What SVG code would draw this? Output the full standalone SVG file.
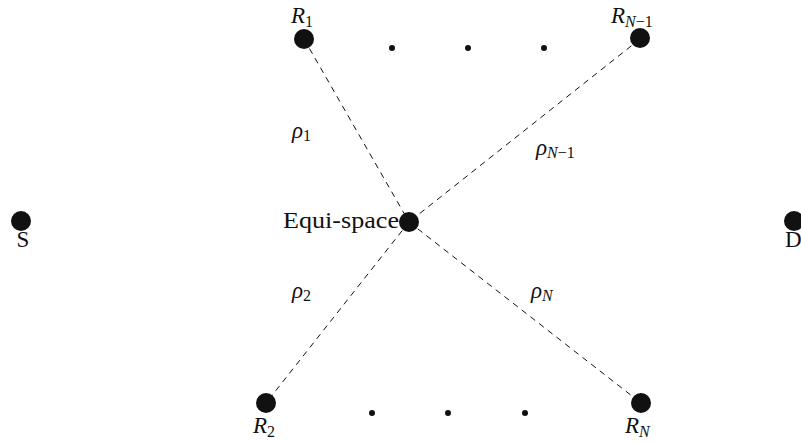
<svg xmlns="http://www.w3.org/2000/svg" width="801" height="442" viewBox="0 0 801 442">
<style>
.big{fill:#111}
.dot{fill:#111}
.edge{stroke:#111;stroke-width:1;stroke-dasharray:6 5;fill:none}
.t{font-family:"Liberation Serif",serif;fill:#111;font-size:23px}
.it{font-style:italic}
.sub{font-size:16px}
.subi{font-size:16px;font-style:italic}
</style>
<rect width="801" height="442" fill="#fff"/>
<g id="connectors">
<line class="edge" x1="304" y1="39" x2="409" y2="222"/>
<line class="edge" x1="640" y1="39" x2="409" y2="222"/>
<line class="edge" x1="409" y1="222" x2="266" y2="403"/>
<line class="edge" x1="409" y1="222" x2="641" y2="403"/>
</g>
<g id="S"><circle class="big" cx="21" cy="221" r="10"/><text class="t" x="23" y="247" text-anchor="middle">S</text></g>
<g id="D"><circle class="big" cx="794" cy="221" r="10"/><text class="t" x="785" y="247">D</text></g>
<g id="R1"><circle class="big" cx="304" cy="39" r="10"/><text class="t" x="291" y="23"><tspan class="it">R</tspan><tspan class="sub" dy="4">1</tspan></text></g>
<g id="RN-1"><circle class="big" cx="640" cy="38" r="10"/><text class="t" x="611" y="23"><tspan class="it">R</tspan><tspan class="subi" dy="4">N</tspan><tspan class="sub">−1</tspan></text></g>
<g id="R2"><circle class="big" cx="266" cy="403" r="10"/><text class="t" x="253" y="433"><tspan class="it">R</tspan><tspan class="sub" dy="4">2</tspan></text></g>
<g id="RN"><circle class="big" cx="641" cy="403" r="10"/><text class="t" x="625" y="433"><tspan class="it">R</tspan><tspan class="subi" dy="4">N</tspan></text></g>
<g id="equi"><circle class="big" cx="409" cy="222" r="10"/><text class="t" x="283" y="228" textLength="116" lengthAdjust="spacingAndGlyphs">Equi-space</text></g>
<g id="dots-top"><circle class="dot" cx="392" cy="48" r="3"/><circle class="dot" cx="468" cy="48" r="3"/><circle class="dot" cx="544" cy="48" r="3"/></g>
<g id="dots-bottom"><circle class="dot" cx="372" cy="413" r="3"/><circle class="dot" cx="448" cy="413" r="3"/><circle class="dot" cx="525" cy="413" r="3"/></g>
<g id="labels">
<text class="t" x="292" y="138"><tspan class="it">ρ</tspan><tspan class="sub" dy="3">1</tspan></text>
<text class="t" x="536" y="155"><tspan class="it">ρ</tspan><tspan class="subi" dy="3">N</tspan><tspan class="sub">−1</tspan></text>
<text class="t" x="292" y="298"><tspan class="it">ρ</tspan><tspan class="sub" dy="3">2</tspan></text>
<text class="t" x="531" y="298"><tspan class="it">ρ</tspan><tspan class="subi" dy="3">N</tspan></text>
</g>
</svg>
